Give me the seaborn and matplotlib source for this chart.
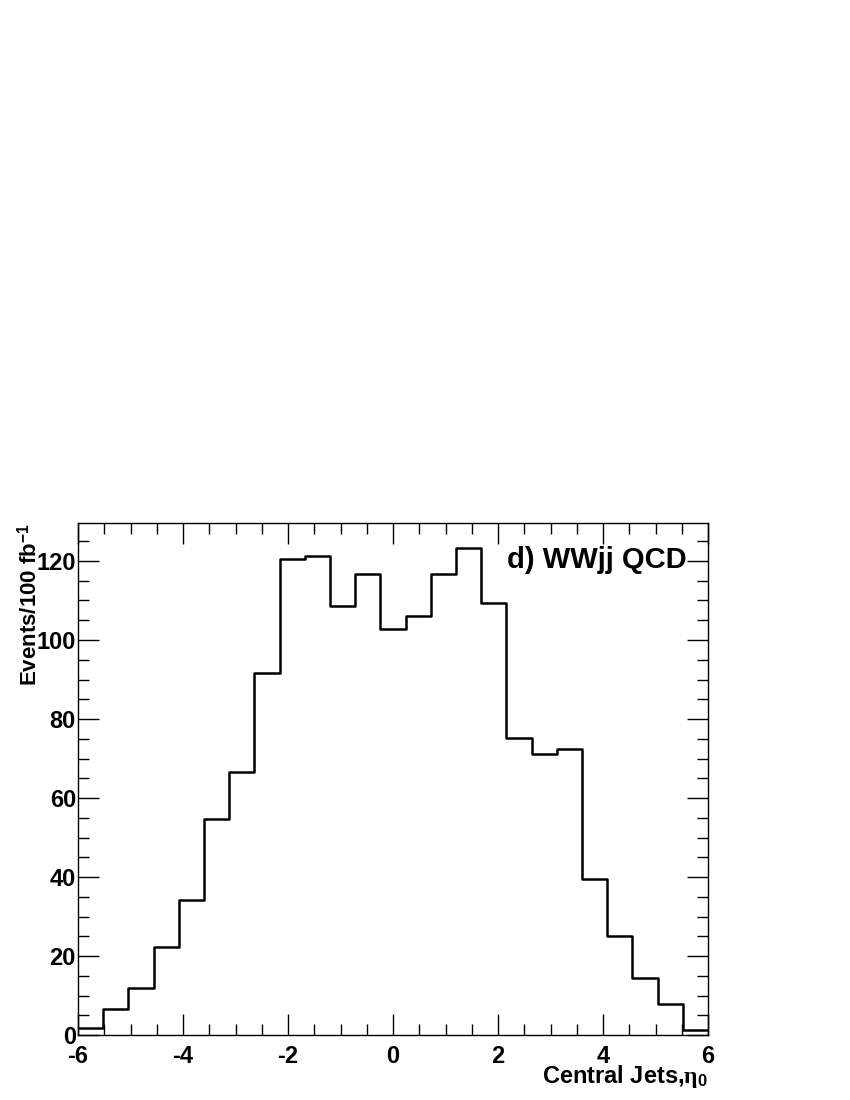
import numpy as np
import pandas as pd
import matplotlib
matplotlib.use("Agg")
import matplotlib.pyplot as plt
import seaborn as sns
from matplotlib.ticker import MultipleLocator

# 25 bins from -6 to 6
X_MIN, X_MAX, N_BINS = -6.0, 6.0, 25
events = [1.8, 6.5, 11.9, 22.4, 34.3, 54.7, 66.6, 91.6, 120.6, 121.2,
          108.7, 116.6, 102.7, 106.0, 116.6, 123.2, 109.3, 75.1, 71.1, 72.5,
          39.5, 25.0, 14.4, 7.8, 1.4]

bin_edges = np.linspace(X_MIN, X_MAX, N_BINS + 1)
df = pd.DataFrame({"eta": (bin_edges[:-1] + bin_edges[1:]) / 2, "w": events})

sns.set_style("ticks")
plt.rcParams["font.family"] = ["Liberation Sans", "DejaVu Sans"]
plt.rcParams["font.weight"] = "bold"
plt.rcParams["text.color"] = "black"
plt.rcParams["axes.labelcolor"] = "black"
plt.rcParams["xtick.color"] = "black"
plt.rcParams["ytick.color"] = "black"
plt.rcParams["axes.unicode_minus"] = False
plt.rcParams["mathtext.fontset"] = "custom"
plt.rcParams["mathtext.rm"] = "Liberation Sans:bold"
plt.rcParams["mathtext.it"] = "Liberation Serif"

fig = plt.figure(figsize=(8.5, 11), dpi=100)
ax = fig.add_axes([0.0918, 0.059, 0.7412, 0.4655])

sns.histplot(data=df, x="eta", weights="w", bins=N_BINS,
             binrange=(X_MIN, X_MAX), element="step",
             fill=False, color="black", linewidth=1.8, ax=ax)

ax.set_xlim(X_MIN, X_MAX)
ax.set_ylim(0, 129.6)
ax.xaxis.set_major_locator(MultipleLocator(2))
ax.xaxis.set_minor_locator(MultipleLocator(0.5))
ax.yaxis.set_major_locator(MultipleLocator(20))
ax.yaxis.set_minor_locator(MultipleLocator(5))
ax.tick_params(which="both", direction="in", top=True, right=True,
               width=1.0, labelsize=17, colors="black")
ax.tick_params(which="major", length=15)
ax.tick_params(which="minor", length=8)
ax.tick_params(axis="x", which="major", pad=7)
ax.tick_params(axis="y", which="major", pad=1.5)
for s in ax.spines.values():
    s.set_linewidth(1.0)
    s.set_color("black")
    s.set_visible(True)
for lab in ax.get_xticklabels() + ax.get_yticklabels():
    lab.set_fontweight("bold")

ax.set_xlabel("")
ax.set_ylabel("")
fig.text(0.833, 0.0155, r"Central Jets,$\eta_0$", ha="right", va="baseline",
         fontsize=17, fontweight="bold")
fig.text(0.035, 0.5245, r"Events/100 fb$^{-1}$", ha="center", va="top",
         rotation=90, fontsize=16, fontweight="bold")
ax.text(0.966, 0.928, "d) WWjj QCD", transform=ax.transAxes, ha="right",
        va="center", fontsize=21, fontweight="bold")

fig.savefig("out.png", dpi=100)
